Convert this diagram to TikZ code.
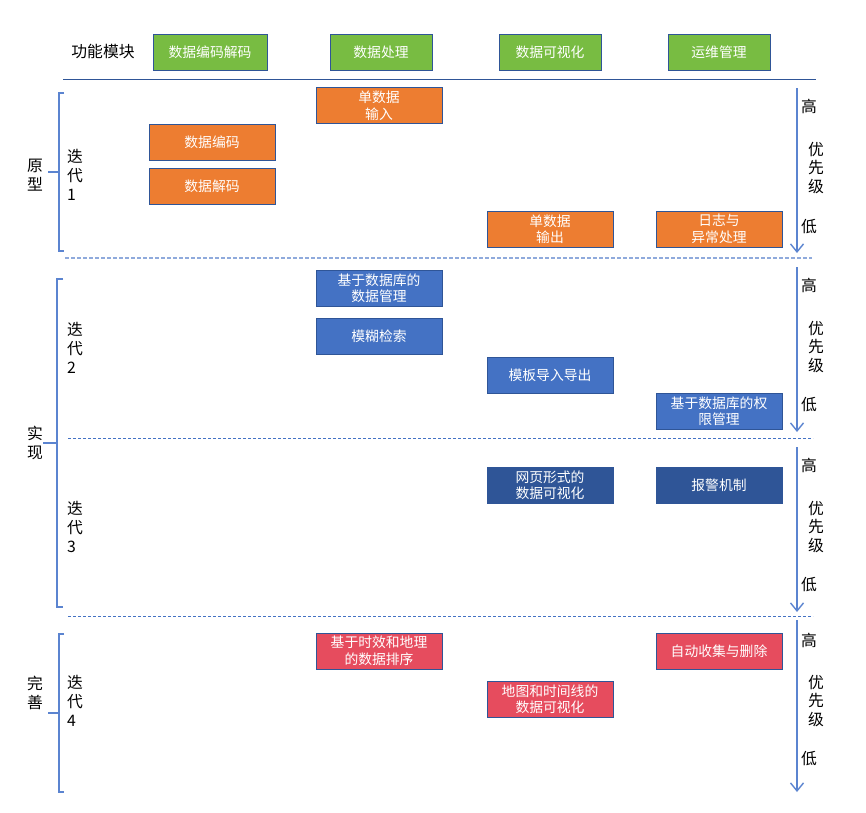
\documentclass[tikz,border=0pt]{standalone}
\usepackage{fontspec}
\setmainfont{Noto Sans CJK SC}
\usepackage{xcolor}
\usetikzlibrary{positioning,arrows.meta}

\definecolor{frameblue}{HTML}{2F5597}
\definecolor{midblue}{HTML}{4472C4}
\definecolor{lineblue}{HTML}{5B84D0}
\definecolor{paleblue}{HTML}{8FAADC}
\definecolor{gbox}{HTML}{78BC42}
\definecolor{obox}{HTML}{ED7D31}
\definecolor{rbox}{HTML}{E64C5E}

\begin{document}
\begin{tikzpicture}[x=1pt, y=-1pt,
  box/.style={draw=frameblue, line width=0.9pt, minimum width=126pt,
              minimum height=36pt, inner sep=1pt, text=white, align=center,
              font=\fontsize{13.8}{16.5}\selectfont},
  Gnode/.style={box, fill=gbox, minimum width=102pt},
  Onode/.style={box, fill=obox},
  Bnode/.style={box, fill=midblue},
  Dnode/.style={box, fill=frameblue},
  Rnode/.style={box, fill=rbox},
  lab/.style={inner sep=0pt, align=center, font=\fontsize{15.8}{18.7}\selectfont},
  itl/.style={lab, align=left},
  brk/.style={draw=lineblue, line width=1.3pt},
  sep/.style={draw=midblue, line width=0.8pt, dash pattern=on 3pt off 2pt},
  prio/.style={-{Straight Barb[length=8pt,width=13pt,line width=1.4pt]},
               draw=lineblue, line width=1.3pt}
]
\useasboundingbox (0,0) rectangle (866,812);

\node[lab] (mod) at (103,51) {功能模块};
\node[Gnode, minimum width=114pt] (h1) at (210,52) {数据编码解码};
\node[Gnode] (h2) at (381,52) {数据处理};
\node[Gnode] (h3) at (550,52) {数据可视化};
\node[Gnode] (h4) at (719,52) {运维管理};
\draw[frameblue, line width=1pt] (63,79.5) -- (816,79.5);

\node[Onode] (in)  at (379,105.5) {单数据\\输入};
\node[Onode] (enc) at (212,142) {数据编码};
\node[Onode] (dec) at (212,186) {数据解码};
\node[Onode] (out) at (550,229) {单数据\\输出};
\node[Onode] (log) at (719,229) {日志与\\异常处理};

\node[Bnode] (db)    at (379,288) {基于数据库的\\数据管理};
\node[Bnode] (fuzzy) at (379,336) {模糊检索};
\node[Bnode] (tpl)   at (550,375) {模板导入导出};
\node[Bnode] (auth)  at (719,411) {基于数据库的权\\限管理};

\node[Dnode] (web)   at (550,485) {网页形式的\\数据可视化};
\node[Dnode] (alarm) at (719,485) {报警机制};

\node[Rnode] (sort) at (379,651) {基于时效和地理\\的数据排序};
\node[Rnode] (map)  at (550,699) {地图和时间线的\\数据可视化};
\node[Rnode] (auto) at (719,651) {自动收集与删除};

\draw[draw=paleblue, line width=1.6pt, dash pattern=on 4pt off 2pt] (65,258) -- (812,258);
\draw[sep] (68,438) -- (813,438);
\draw[sep] (68,616) -- (813,616);

\node[lab] (s1) at (35,175) {原\\型};
\node[lab] (s2) at (35,443) {实\\现};
\node[lab] (s3) at (35,693) {完\\善};
\draw[brk] (64,93) -- (59,93) -- (59,251) -- (64,251);
\draw[brk] (59,172) -- (48,172);
\draw[brk] (63,279) -- (57,279) -- (57,607) -- (63,607);
\draw[brk] (57,443) -- (43,443);
\draw[brk] (64,634) -- (59,634) -- (59,792) -- (64,792);
\draw[brk] (59,713) -- (48,713);

\node[itl] (it1) at (75,175) {迭\\代\\1};
\node[itl] (it2) at (75,348) {迭\\代\\2};
\node[itl] (it3) at (75,527) {迭\\代\\3};
\node[itl] (it4) at (75,701) {迭\\代\\4};

\coordinate (t1) at (797,88);  \coordinate (b1) at (797,253);
\coordinate (t2) at (797,267); \coordinate (b2) at (797,432);
\coordinate (t3) at (797,447); \coordinate (b3) at (797,612);
\coordinate (t4) at (797,620); \coordinate (b4) at (797,792);
\draw[prio] (t1) -- (b1);
\draw[prio] (t2) -- (b2);
\draw[prio] (t3) -- (b3);
\draw[prio] (t4) -- (b4);

\node[lab] (hi1) at (809,106) {高};
\node[lab] (pr1) at (816,168) {优\\先\\级};
\node[lab] (lo1) at (809,227) {低};
\node[lab] (hi2) at (809,285) {高};
\node[lab] (pr2) at (816,347) {优\\先\\级};
\node[lab] (lo2) at (809,405) {低};
\node[lab] (hi3) at (809,465) {高};
\node[lab] (pr3) at (816,527) {优\\先\\级};
\node[lab] (lo3) at (809,585) {低};
\node[lab] (hi4) at (809,640) {高};
\node[lab] (pr4) at (816,701) {优\\先\\级};
\node[lab] (lo4) at (809,759) {低};
\end{tikzpicture}
\end{document}
